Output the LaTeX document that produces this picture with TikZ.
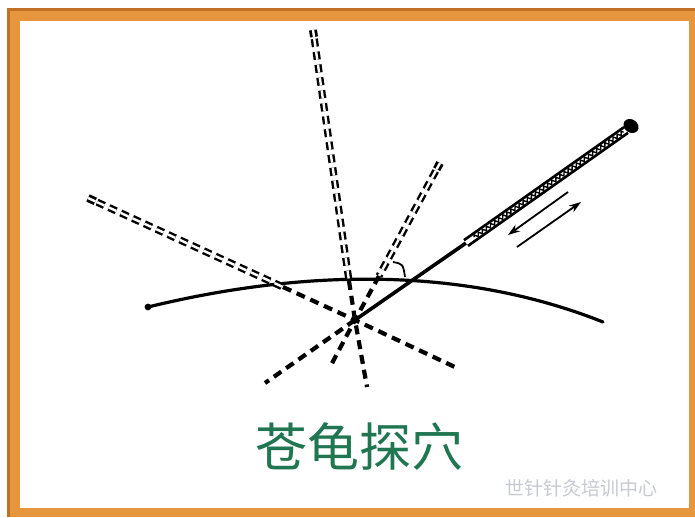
\documentclass[tikz,border=0pt]{standalone}
\usepackage{fontspec}
\newfontfamily\cjk{Noto Sans CJK SC}
\usetikzlibrary{arrows.meta,decorations.pathmorphing,calc}
\definecolor{frameorange}{RGB}{230,150,60}
\definecolor{frameedge}{RGB}{196,112,36}
\definecolor{titlegreen}{RGB}{32,118,80}
\definecolor{markgray}{RGB}{200,202,210}
\tikzset{
  skinline/.style={line width=3.2pt, line cap=round},
  shaft/.style={line width=3.6pt, line cap=round},
  needlebody/.style={draw=black, line width=2.4pt, double=white, double distance=2.4pt,
                     dash pattern=on 8pt off 5pt},
  needledeep/.style={draw=black, line width=4.2pt, dash pattern=on 9pt off 6pt},
  needlehead/.style={draw=black, line width=2.8pt, double=white, double distance=2.4pt},
  motion/.style={line width=1.8pt, -{Stealth[length=12pt,width=8pt]}},
}
\begin{document}
\begin{tikzpicture}[x=1pt,y=-1pt]
\useasboundingbox (0,0) rectangle (695,517);
% frame
\fill[white] (0,0) rectangle (695,517);
\fill[frameorange] (7,8) rectangle (695,517);
\fill[frameedge] (7,8) rectangle (695,11);
\fill[frameedge] (7,8) rectangle (10,517);
\fill[white] (20,21) rectangle (689,508);

% points of the drawing
\coordinate (c) at (355,320);          % point reached under the skin
\coordinate (sL) at (148,307);         % skin ends
\coordinate (sR) at (603,322);
% solid needle
\coordinate (h1) at (466,243);
\coordinate (h2) at (626,130);
\coordinate (tipA) at (265,383);
% dashed needles: head, skin crossing, deep end
\coordinate (hB) at (440,163); \coordinate (kB) at (379,276); \coordinate (eB) at (330,367);
\coordinate (hC) at (313,30);  \coordinate (kC) at (349,281); \coordinate (eC) at (367,387);
\coordinate (hD) at (88,198);  \coordinate (kD) at (283,287); \coordinate (eD) at (457,368);

% skin surface
\draw[skinline] (sL) .. controls (300,270) and (460,265) .. (sR);
\fill (sL) circle (3.4pt);

% dashed needles above the skin
\draw[needlebody] ($(hB)!9pt!(kB)$) -- (kB);
\draw[needlebody] ($(hC)!9pt!(kC)$) -- (kC);
\draw[needlebody] ($(hD)!10pt!(kD)$) -- (kD);
% their heads
\draw[needlehead] (hB) -- ($(hB)!7pt!(kB)$);
\draw[needlehead] (hC) -- ($(hC)!7pt!(kC)$);
\draw[needlehead] (hD) -- ($(hD)!8pt!(kD)$);
% under the skin
\draw[needledeep] (kB) -- (c) -- (eB);
\draw[needledeep] (kC) -- (c) -- (eC);
\draw[needledeep] (kD) -- (c) -- (eD);
\draw[needledeep] (c) -- (tipA);

% angle mark at the entry point
\draw[line width=1.8pt] (393,262) .. controls (403,264) .. (405,277);

% solid needle
\draw[shaft] (c) -- (h1);
\draw[draw=black, line width=2.8pt, double=white, double distance=4pt] (h1) -- (h2);
\draw[line width=1.4pt, decorate, decoration={zigzag, segment length=5pt, amplitude=1.8pt}]
  ($(h1)!10pt!(h2)$) -- ($(h2)!3pt!(h1)$);
\fill[rotate around={-35:(631,126)}] (631,126) ellipse (8pt and 6.5pt);

% lift and thrust
\coordinate (a1s) at (568,192); \coordinate (a1e) at (508,235);
\coordinate (a2s) at (517,247); \coordinate (a2e) at (581,202);
\draw[motion] (a1s) -- (a1e);
\draw[motion] (a2s) -- (a2e);

% caption
\node[text=titlegreen, font=\cjk\fontsize{52}{52}\selectfont] (title) at (359,447) {苍龟探穴};
\node[text=markgray, font=\cjk\fontsize{19}{19}\selectfont, anchor=west] (mark) at (502,488) {世针针灸培训中心};
\end{tikzpicture}
\end{document}
